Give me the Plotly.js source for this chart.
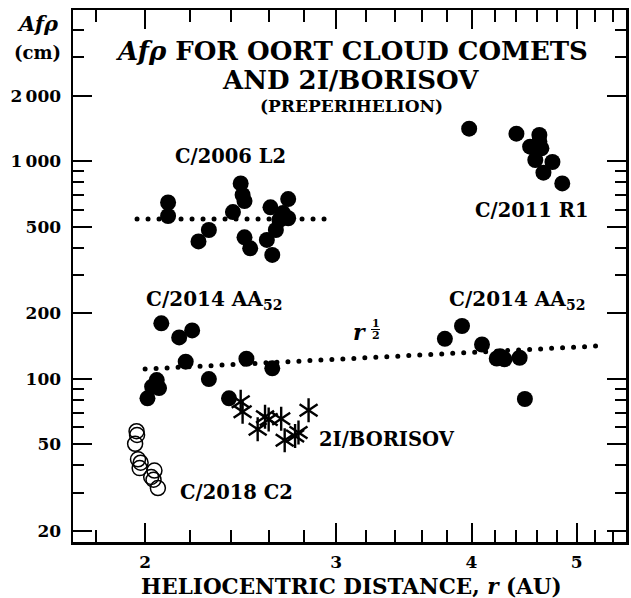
<!DOCTYPE html>
<html>
<head>
<meta charset="utf-8">
<script src="https://cdn.plot.ly/plotly-3.0.1.min.js"></script>
<style>
  html, body { margin: 0; padding: 0; background: #fff; }
  #chart { width: 631px; height: 598px; }
  .scatterlayer .js-line { stroke-linecap: round; }
</style>
</head>
<body>
<div id="chart"></div>
<script>
// ---- Data ----
// C/2006 L2 (filled circles)
const l2X = [2.10, 2.10, 2.24, 2.29, 2.45, 2.46, 2.47, 2.41, 2.47, 2.50, 2.61, 2.71, 2.59, 2.62, 2.64, 2.68, 2.71, 2.66];
const l2Y = [646, 560, 428, 483, 791, 700, 656, 584, 447, 398, 614, 670, 435, 371, 483, 578, 547, 537];
// C/2006 L2 mean level (dotted)
const l2FitX = [1.966, 2.93];
const l2FitY = [543, 543];

// C/2011 R1 (filled circles)
const r1X = [3.98, 4.40, 4.62, 4.62, 4.53, 4.64, 4.58, 4.75, 4.66, 4.85];
const r1Y = [1411, 1338, 1320, 1232, 1166, 1146, 1013, 992, 886, 791];

// C/2014 AA52 (filled circles)
const aaX = [2.07, 2.15, 2.21, 2.18, 2.05, 2.03, 2.06, 2.01, 2.29, 2.48, 2.62, 2.39,
             3.78, 3.92, 4.09, 4.22, 4.29, 4.25, 4.43, 4.48];
const aaY = [180, 155, 167, 120, 98.7, 92, 90.7, 81.4, 99.8, 123.7, 111.8, 81.4,
             152.8, 175, 143.8, 124, 123, 127, 125, 80.8];
// r^(1/2) fit (dotted)
const aaFitX = [2.0, 5.29];
const aaFitY = [111, 142];

// 2I/Borisov (asterisks)
const borX = [2.45, 2.46, 2.58, 2.60, 2.67, 2.54, 2.83, 2.69, 2.77, 2.75];
const borY = [78.5, 70.6, 67.0, 65.0, 65.5, 58.7, 71.7, 52.3, 56.7, 54.6];

// C/2018 C2 (open circles)
const c2X = [1.964, 1.966, 1.958, 1.970, 1.981, 1.977, 2.04, 2.026, 2.036, 2.055];
const c2Y = [57.5, 55.2, 50.3, 42.7, 41.2, 38.9, 37.9, 35.4, 34.4, 31.5];

// Axis ticks
const xTickVals = [2, 3, 4, 5];
const xTickText = ['2', '3', '4', '5'];
const xMinorVals = [1.8, 2.2, 2.4, 2.6, 2.8, 3.2, 3.4, 3.6, 3.8, 4.2, 4.4, 4.6, 4.8, 5.2, 5.4];
const yTickVals = [20, 50, 100, 200, 500, 1000, 2000];
const yTickText = ['20', '50', '100', '200', '500', '1\u2009000', '2\u2009000'];
const yMinorVals = [30, 40, 60, 70, 80, 90, 300, 400, 600, 700, 800, 900, 3000, 4000];

// ---- Styling ----
const FONT = 'DejaVu Serif, Liberation Serif, serif';
const INK = '#000';

const dotted = { color: INK, width: 5, dash: '0px,11px' };

const traces = [
  { x: l2FitX, y: l2FitY, mode: 'lines', line: dotted, hoverinfo: 'skip' },
  { x: aaFitX, y: aaFitY, mode: 'lines', line: dotted, hoverinfo: 'skip' },
  { x: l2X, y: l2Y, mode: 'markers', marker: { symbol: 'circle', size: 16, color: INK } },
  { x: r1X, y: r1Y, mode: 'markers', marker: { symbol: 'circle', size: 16, color: INK } },
  { x: aaX, y: aaY, mode: 'markers', marker: { symbol: 'circle', size: 16, color: INK } },
  { x: c2X, y: c2Y, mode: 'markers', marker: { symbol: 'circle-open', size: 15, color: INK, line: { width: 1.5, color: INK } } },
  { x: borX, y: borY, mode: 'markers', marker: { symbol: 'y-up-open', size: 15, color: INK, line: { width: 2.4, color: INK } } },
  { x: borX, y: borY, mode: 'markers', marker: { symbol: 'y-down-open', size: 15, color: INK, line: { width: 2.4, color: INK } } }
];

// plot box in pixels: left 73, right 626, top 10, bottom 542
const L = 73, R = 626, T = 10, B = 542;
const px = v => (v - L) / (R - L);
const py = v => (B - v) / (B - T);

function ann(text, x, y, size, extra) {
  return Object.assign({
    text: text, xref: 'paper', yref: 'paper', x: px(x), y: py(y),
    xanchor: 'center', yanchor: 'middle', showarrow: false,
    font: { family: FONT, size: size, color: INK, weight: 'bold' }
  }, extra || {});
}

const annotations = [
  ann('<b><i>Af\u03c1</i> FOR OORT CLOUD COMETS</b>', 351, 51, 26),
  ann('<b>AND 2I/BORISOV</b>', 350, 80, 26),
  ann('<b>(PREPERIHELION)</b>', 351, 106, 17),
  ann('<b>C/2006 L2</b>', 230, 156, 19.5),
  ann('<b>C/2011 R1</b>', 531, 210, 19.5),
  ann('<b>C/2014 AA<sub>52</sub></b>', 214, 300, 20),
  ann('<b>C/2014 AA<sub>52</sub></b>', 517, 300, 20),
  ann('<b>2I/BORISOV</b>', 387, 439, 19.5),
  ann('<b>C/2018 C2</b>', 236, 492, 19.5),
  ann('<b><i>r</i></b>', 359, 332, 22),
  ann('<b>1</b>', 375.5, 323, 11),
  ann('<b>2</b>', 375.5, 336, 11),
  ann('<b><i>Af\u03c1</i></b>', 38, 23, 21),
  ann('<b>(cm)</b>', 37, 53, 18),
  ann('<b>HELIOCENTRIC DISTANCE, <i>r</i> (AU)</b>', 351, 586, 21.5)
];

const shapes = [
  { type: 'line', xref: 'paper', yref: 'paper', x0: px(371), x1: px(380), y0: py(329.5), y1: py(329.5),
    line: { color: INK, width: 1 } }
];

const axisCommon = {
  type: 'log', showgrid: false, zeroline: false,
  showline: true, linecolor: INK, linewidth: 2.5, mirror: 'ticks',
  ticks: 'inside', ticklen: 19, tickwidth: 2, tickcolor: INK,
  tickmode: 'array',
  tickfont: { family: FONT, size: 17, color: INK, weight: 'bold' }
};

const layout = {
  width: 631, height: 598,
  margin: { l: L, r: 631 - R, t: T, b: 598 - B },
  paper_bgcolor: '#fff', plot_bgcolor: '#fff',
  showlegend: false,
  xaxis: Object.assign({}, axisCommon, {
    range: [Math.log10(1.716), Math.log10(5.553)],
    tickvals: xTickVals, ticktext: xTickText,
    ticklabelstandoff: 3,
    minor: { tickmode: 'array', tickvals: xMinorVals, ticks: 'inside', ticklen: 12, tickwidth: 2, tickcolor: INK, showgrid: false }
  }),
  yaxis: Object.assign({}, axisCommon, {
    range: [Math.log10(17.8), Math.log10(4953)],
    tickvals: yTickVals, ticktext: yTickText,
    ticklabelstandoff: 6,
    minor: { tickmode: 'array', tickvals: yMinorVals, ticks: 'inside', ticklen: 11, tickwidth: 2, tickcolor: INK, showgrid: false }
  }),
  annotations: annotations,
  shapes: shapes
};

Plotly.newPlot('chart', traces, layout, { staticPlot: true, displayModeBar: false });
</script>
</body>
</html>
